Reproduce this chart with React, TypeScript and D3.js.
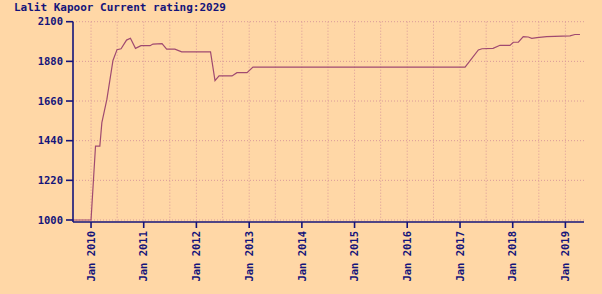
import React from "react";
import * as d3 from "d3";

const TITLE = "Lalit Kapoor Current rating:2029";
const dates: string[] = [
  "2009-08-29", "2010-01-01", "2010-02-01", "2010-03-03", "2010-03-17", "2010-04-21",
  "2010-06-02", "2010-06-30", "2010-07-28", "2010-09-04", "2010-10-01", "2010-11-05",
  "2010-12-13", "2011-02-14", "2011-03-06", "2011-05-08", "2011-06-09", "2011-08-05",
  "2011-09-21", "2012-04-08", "2012-05-09", "2012-06-06", "2012-09-04", "2012-10-08",
  "2012-12-17", "2013-01-27", "2017-02-05", "2017-05-08", "2017-06-02", "2017-08-18",
  "2017-10-05", "2017-12-13", "2018-01-05", "2018-02-09", "2018-03-15", "2018-04-19",
  "2018-05-13", "2018-06-18", "2018-08-24", "2019-02-02", "2019-03-08", "2019-04-12",
];
const ratings: number[] = [
  1000, 1000, 1410, 1410, 1540, 1670,
  1885, 1945, 1950, 1998, 2008, 1952,
  1967, 1967, 1976, 1978, 1948, 1948,
  1933, 1933, 1773, 1799, 1799, 1817,
  1817, 1848, 1848, 1943, 1950, 1952,
  1969, 1969, 1986, 1986, 2017, 2015,
  2008, 2012, 2017, 2021, 2029, 2029,
];
const yTicks: number[] = [1000, 1220, 1440, 1660, 1880, 2100];
const xDomain: string[] = ["2009-08-29", "2019-05-10"];

const W = 602, H = 294;
const BG = "#ffd7a6";
const NAVY = "#14147a";
const GRID = "#d99a9a";
const LINE = "#a04a70";
const FONT = "'DejaVu Sans Mono', monospace";

export default function App() {
  const parse = d3.timeParse("%Y-%m-%d");
  const data = dates.map((d, i) => ({ date: parse(d) as Date, value: ratings[i] }));
  const x = d3.scaleTime()
    .domain([parse(xDomain[0]) as Date, parse(xDomain[1]) as Date])
    .range([73, 584]);
  const y = d3.scaleLinear().domain([1000, 2100]).range([220, 21.7]);
  const axisY = 222;
  const yearTicks = x.ticks(d3.timeYear.every(1) as any);
  const halfYears = d3.timeMonth.every(6)!.range(x.domain()[0], x.domain()[1]);
  const fmt = d3.timeFormat("%b %Y");
  const line = d3.line<{ date: Date; value: number }>()
    .x(d => x(d.date))
    .y(d => y(d.value));

  return (
    <svg width={W} height={H} style={{ position: "absolute", left: 0, top: 0, background: BG }}>
      <rect x={0} y={0} width={W} height={H} fill={BG} />
      <text x={14} y={11} fill={NAVY} fontFamily={FONT} fontWeight="bold" fontSize={11}>{TITLE}</text>
      {yTicks.map(t => (
        <line key={"gy" + t} x1={73} x2={585} y1={y(t)} y2={y(t)} stroke={GRID} strokeWidth={1} strokeDasharray="1,2" />
      ))}
      {halfYears.map(d => (
        <line key={"gx" + d.getTime()} x1={x(d)} x2={x(d)} y1={y(2100)} y2={axisY} stroke={GRID} strokeWidth={1} strokeDasharray="1,2" />
      ))}
      <path d={line(data) || ""} fill="none" stroke={LINE} strokeWidth={1.2} />
      <line x1={73} x2={73} y1={y(2100)} y2={axisY} stroke={NAVY} strokeWidth={1.6} />
      <line x1={73} x2={584} y1={axisY} y2={axisY} stroke={NAVY} strokeWidth={1.6} />
      {yTicks.map(t => (
        <g key={"ty" + t}>
          <line x1={66} x2={73} y1={y(t)} y2={y(t)} stroke={NAVY} strokeWidth={1.6} />
          <text x={63} y={y(t)} dy="0.35em" textAnchor="end" fill={NAVY} fontFamily={FONT} fontWeight="bold" fontSize={10.5}>{t}</text>
        </g>
      ))}
      {yearTicks.map(d => (
        <g key={"tx" + d.getTime()} transform={`translate(${x(d)},0)`}>
          <line x1={0} x2={0} y1={axisY} y2={axisY + 6} stroke={NAVY} strokeWidth={1.6} />
          <text transform={`translate(0,${axisY + 9}) rotate(-90)`} dy="0.35em" textAnchor="end" fill={NAVY} fontFamily={FONT} fontWeight="bold" fontSize={10.5}>{fmt(d)}</text>
        </g>
      ))}
    </svg>
  );
}
